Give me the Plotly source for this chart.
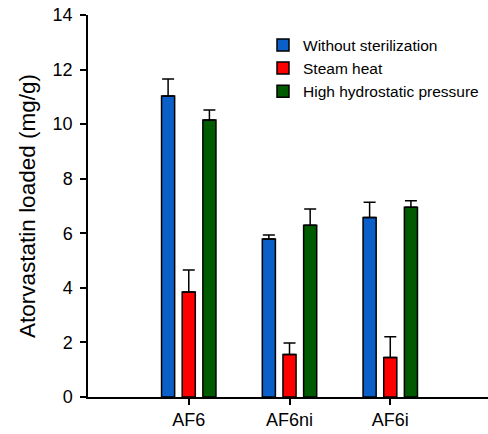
import plotly.graph_objects as go

categories = ["AF6", "AF6ni", "AF6i"]
series_names = ["Without sterilization", "Steam heat", "High hydrostatic pressure"]
without_vals = [11.03, 5.79, 6.58]
without_err = [0.62, 0.15, 0.56]
steam_vals = [3.85, 1.56, 1.45]
steam_err = [0.80, 0.42, 0.76]
hhp_vals = [10.15, 6.29, 6.95]
hhp_err = [0.37, 0.60, 0.24]
y_ticks = [0, 2, 4, 6, 8, 10, 12, 14]

colors = ["#0a5fc8", "#ff0000", "#005a00"]
x_pos = list(range(len(categories)))

fig = go.Figure()
for name, vals, err, col in zip(series_names,
                                [without_vals, steam_vals, hhp_vals],
                                [without_err, steam_err, hhp_err],
                                colors):
    fig.add_trace(go.Bar(
        x=x_pos, y=vals, name=name,
        marker=dict(color=col, line=dict(color="black", width=1.5)),
        error_y=dict(type="data", symmetric=False, array=err,
                     arrayminus=[0] * len(err), color="black",
                     thickness=1.5, width=6),
    ))

font_family = "Liberation Sans, Arial, sans-serif"
fig.update_layout(
    width=488, height=434,
    margin=dict(l=88, r=0, t=15, b=37, autoexpand=False),
    plot_bgcolor="white", paper_bgcolor="white",
    barmode="group", bargap=0.385, bargroupgap=0.366,
    font=dict(family=font_family, size=18, color="black"),
    showlegend=True,
    legend=dict(x=0.4375, y=0.965, xanchor="left", yanchor="top",
                font=dict(size=15.5, color="black"), bgcolor="rgba(0,0,0,0)",
                tracegroupgap=0, itemwidth=30),
    xaxis=dict(range=[-1, 2.97], tickvals=x_pos, ticktext=categories,
               showline=True, linecolor="black", linewidth=1.5,
               ticks="outside", ticklen=6, tickwidth=1.5, tickcolor="black",
               showgrid=False, zeroline=False, automargin=False,
               tickfont=dict(size=18)),
    yaxis=dict(range=[0, 14], tickvals=y_ticks,
               showline=True, linecolor="black", linewidth=1.5,
               ticks="outside", ticklen=6, tickwidth=1.5, tickcolor="black",
               showgrid=False, zeroline=False, automargin=False,
               ticklabelstandoff=4,
               title=dict(text="Atorvastatin loaded (mg/g)", font=dict(size=22.5), standoff=11),
               tickfont=dict(size=18)),
)

fig.write_html("out.html",
               config={"displayModeBar": False},
               post_script="document.body.style.margin='0';document.body.style.overflow='hidden';")
